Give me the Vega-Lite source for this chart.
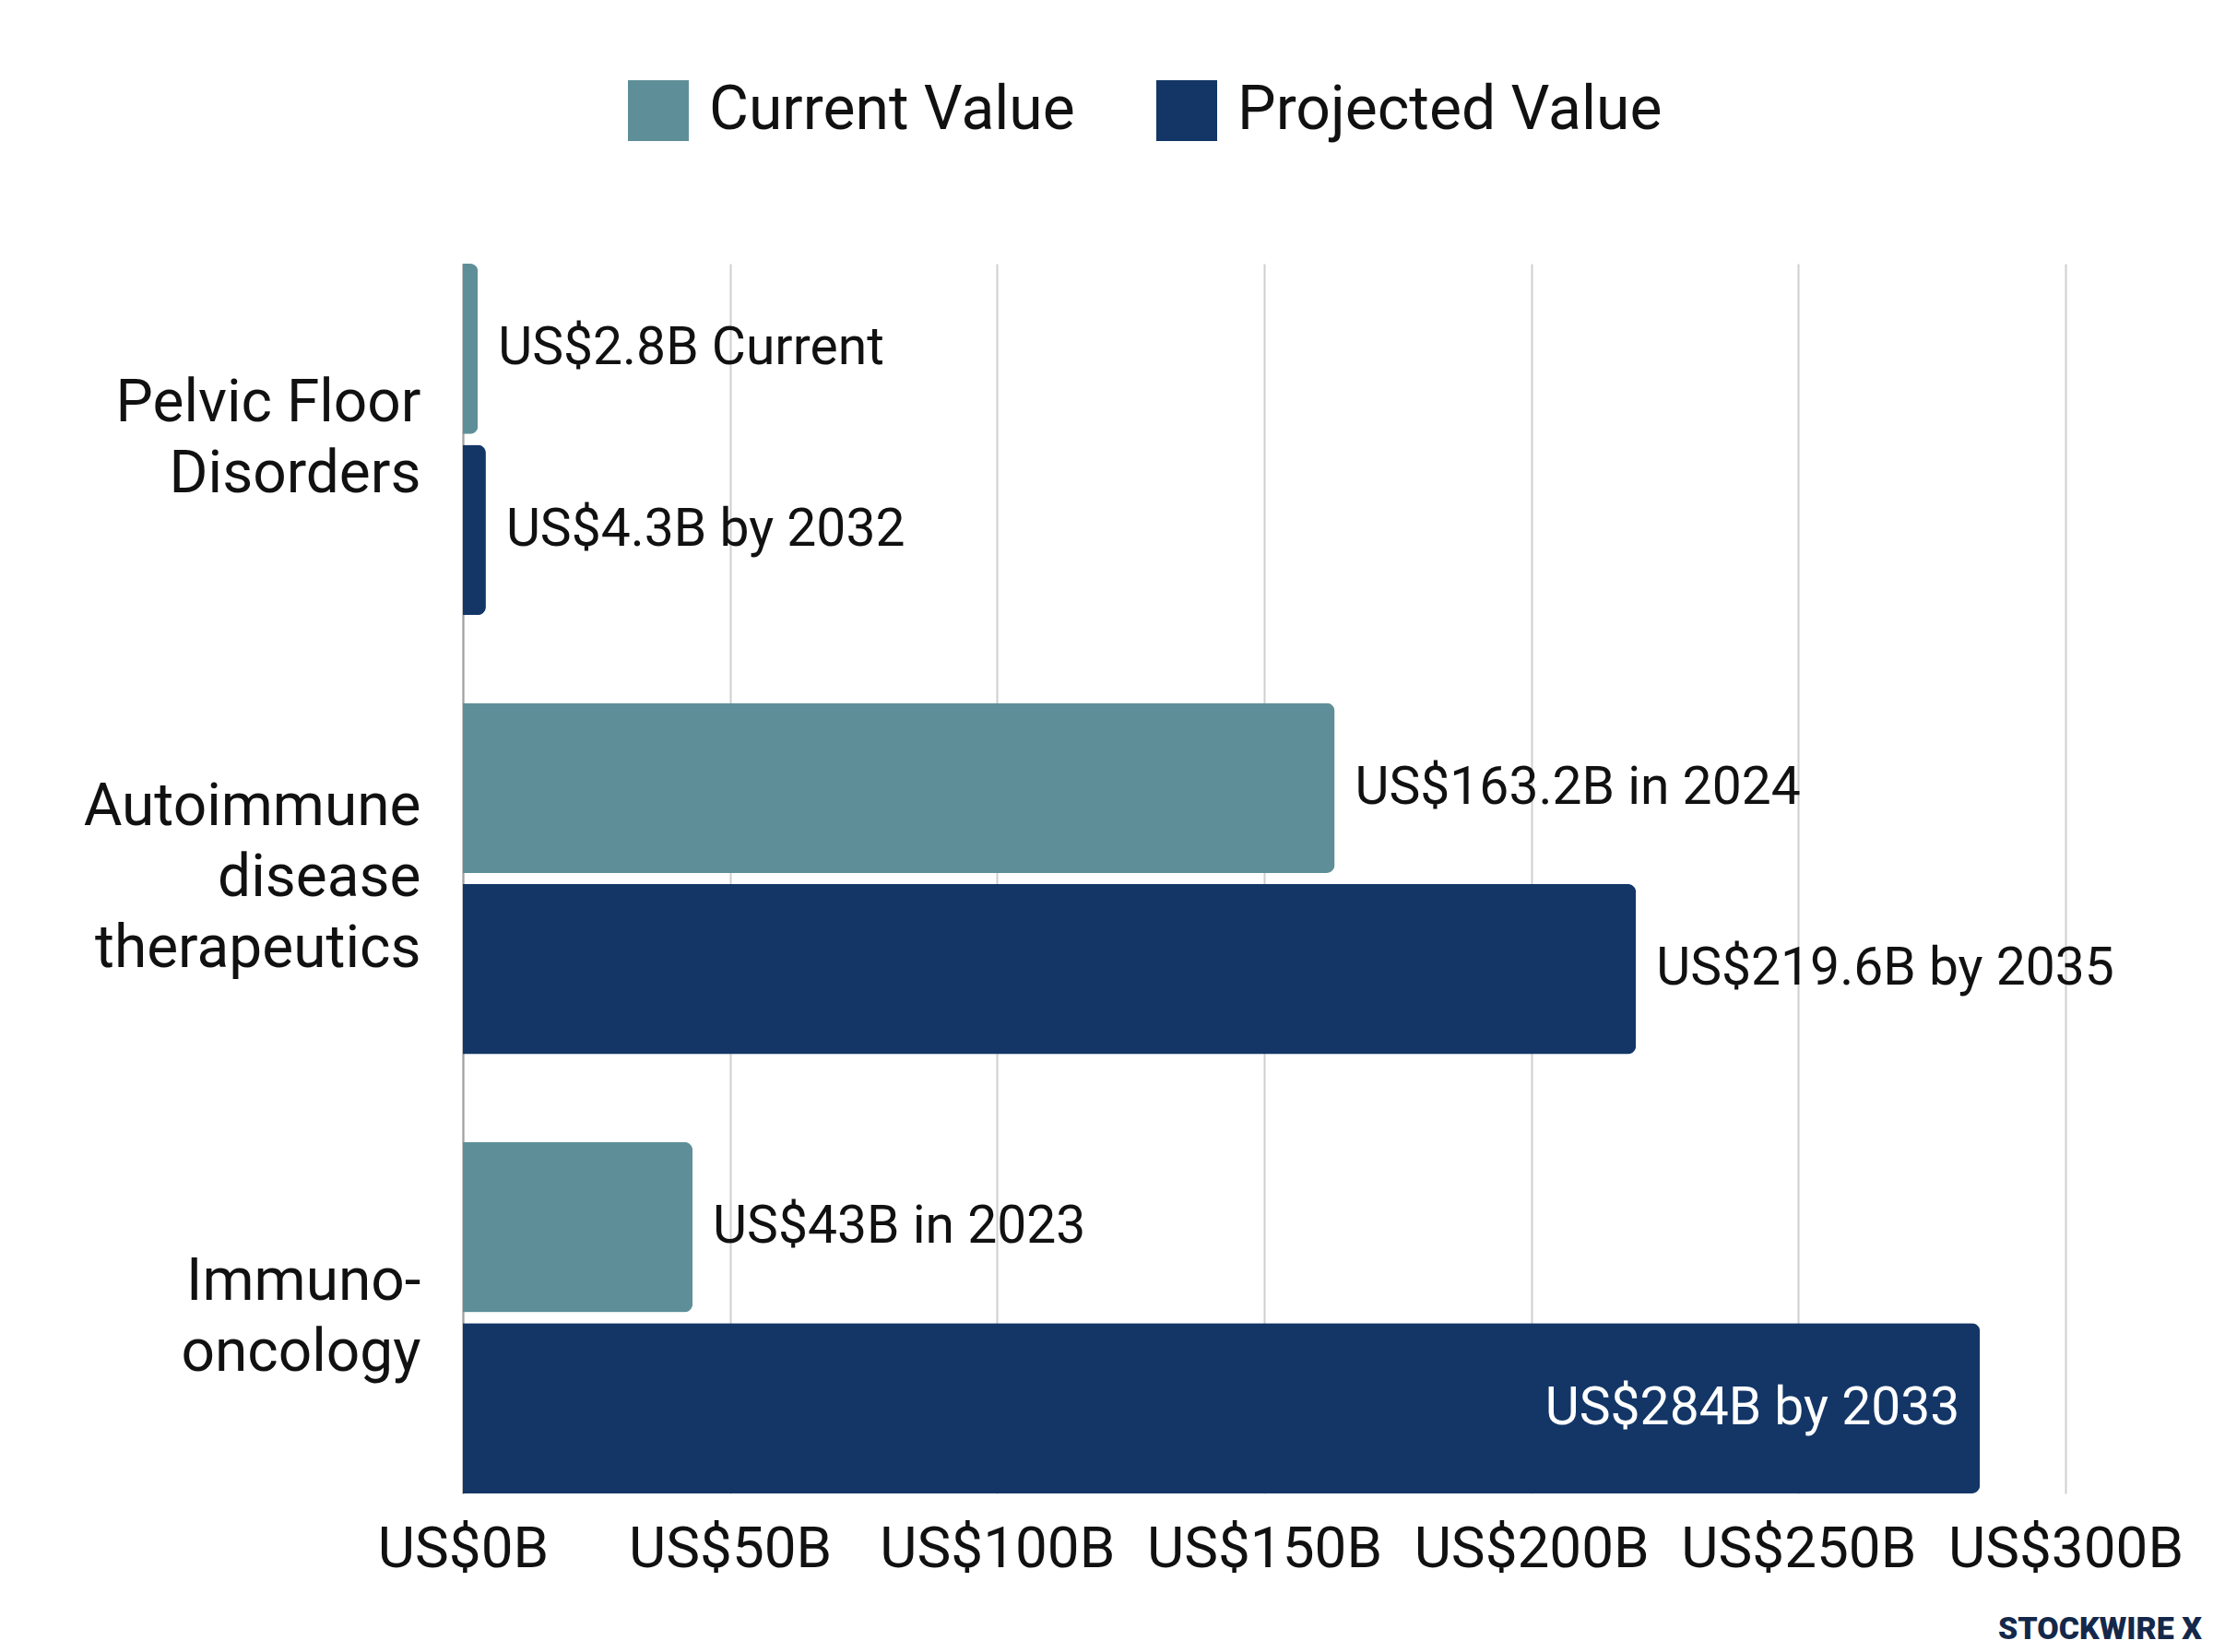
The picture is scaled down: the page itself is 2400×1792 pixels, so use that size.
{
  "$schema": "https://vega.github.io/schema/vega-lite/v6.json",
  "autosize": {"type": "none"},
  "padding": {"left": 502, "top": 286, "right": 160, "bottom": 172},
  "width": 1738,
  "height": 1334,
  "background": "white",
  "config": {"view": {"stroke": null}},
  "title": {
    "text": "STOCKWIRE X",
    "orient": "bottom",
    "anchor": "end",
    "frame": "group",
    "align": "right",
    "dx": 148,
    "offset": 40,
    "font": "Roboto",
    "fontSize": 34,
    "fontWeight": 900,
    "color": "#14284b"
  },
  "data": {
    "values": [
      {"category": "Pelvic Floor|Disorders", "series": "Current Value", "value": 2.8, "label": "US$2.8B Current", "inside": 0},
      {"category": "Pelvic Floor|Disorders", "series": "Projected Value", "value": 4.3, "label": "US$4.3B by 2032", "inside": 0},
      {"category": "Autoimmune|disease|therapeutics", "series": "Current Value", "value": 163.2, "label": "US$163.2B in 2024", "inside": 0},
      {"category": "Autoimmune|disease|therapeutics", "series": "Projected Value", "value": 219.6, "label": "US$219.6B by 2035", "inside": 0},
      {"category": "Immuno-|oncology", "series": "Current Value", "value": 43, "label": "US$43B in 2023", "inside": 0},
      {"category": "Immuno-|oncology", "series": "Projected Value", "value": 284, "label": "US$284B by 2033", "inside": 1}
    ]
  },
  "encoding": {
    "y": {
      "field": "category",
      "type": "nominal",
      "sort": null,
      "scale": {"paddingInner": 0.2, "paddingOuter": 0},
      "axis": {
        "title": null,
        "ticks": false,
        "domain": true,
        "domainColor": "#a0a0a0",
        "domainWidth": 2,
        "grid": false,
        "labelExpr": "split(datum.value, '|')",
        "labelFont": "Roboto",
        "labelFontSize": 64,
        "labelColor": "#111111",
        "labelPadding": 46,
        "labelLineHeight": 77,
        "labelAlign": "right",
        "labelBaseline": "middle",
        "labelOffset": {
          "condition": {"test": "length(split(datum.value, '|')) == 3", "value": -77},
          "value": -38.5
        },
        "labelLimit": 0
      }
    },
    "yOffset": {
      "field": "series",
      "type": "nominal",
      "sort": ["Current Value", "Projected Value"],
      "scale": {"paddingInner": 0.06, "paddingOuter": 0}
    },
    "x": {
      "field": "value",
      "type": "quantitative",
      "scale": {"domain": [0, 300], "nice": false},
      "axis": {
        "title": null,
        "values": [0, 50, 100, 150, 200, 250, 300],
        "labelExpr": "'US$' + datum.value + 'B'",
        "ticks": false,
        "domain": false,
        "grid": true,
        "gridColor": "#cfcfcf",
        "gridWidth": 2,
        "labelFont": "Roboto",
        "labelFontSize": 62,
        "labelColor": "#111111",
        "labelPadding": 30,
        "labelFlush": false,
        "labelOverlap": false,
        "labelLimit": 0
      }
    }
  },
  "layer": [
    {
      "mark": {"type": "bar", "cornerRadiusEnd": 9, "opacity": 1},
      "encoding": {
        "color": {
          "field": "series",
          "type": "nominal",
          "scale": {"domain": ["Current Value", "Projected Value"], "range": ["#5e8f98", "#133667"]},
          "legend": {
            "orient": "none",
            "legendX": 179,
            "legendY": -199,
            "direction": "horizontal",
            "title": null,
            "symbolType": "square",
            "symbolSize": 4356,
            "symbolStrokeWidth": 0,
            "symbolOpacity": 1,
            "labelFont": "Roboto",
            "labelFontSize": 66,
            "labelColor": "#111111",
            "labelOffset": 22,
            "columnPadding": 88,
            "padding": 0,
            "labelLimit": 0
          }
        }
      }
    },
    {
      "transform": [{"filter": "datum.inside == 0"}],
      "mark": {"type": "text", "align": "left", "baseline": "middle", "dx": 22, "font": "Roboto", "fontSize": 57, "color": "#111111"},
      "encoding": {"text": {"field": "label"}}
    },
    {
      "transform": [{"filter": "datum.inside == 1"}],
      "mark": {"type": "text", "align": "right", "baseline": "middle", "dx": -22, "font": "Roboto", "fontSize": 57, "color": "#ffffff"},
      "encoding": {"text": {"field": "label"}}
    }
  ]
}
